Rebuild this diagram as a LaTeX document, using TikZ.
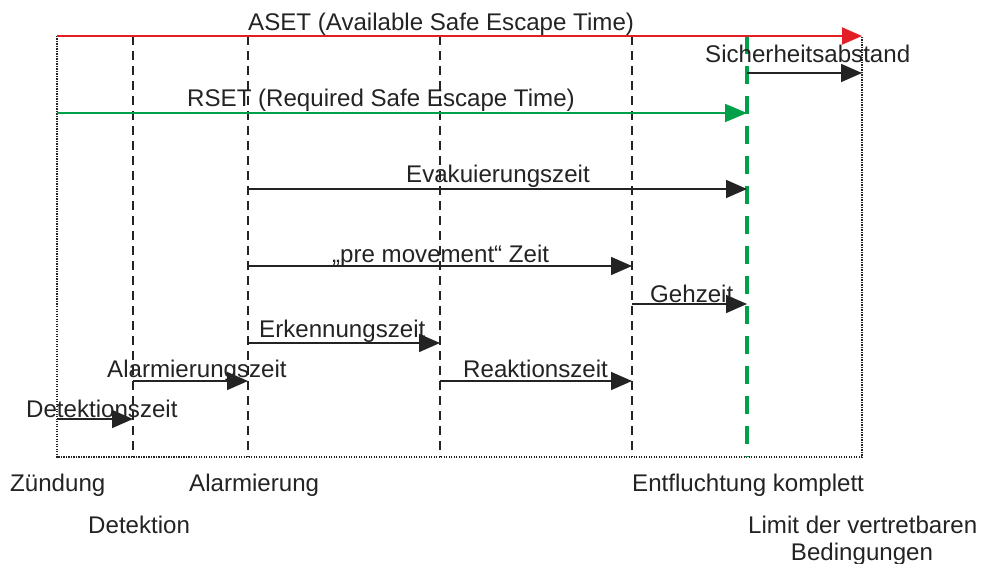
\documentclass[tikz,border=0pt]{standalone}
\usepackage{fontspec}
\setmainfont{Liberation Sans}
\usetikzlibrary{arrows.meta}
\definecolor{ink}{HTML}{232323}
\definecolor{asetred}{HTML}{E31E24}
\definecolor{rsetgreen}{HTML}{00A04A}

\begin{document}
\begin{tikzpicture}[x=1pt,y=-1pt,
  lbl/.style={anchor=base west, inner sep=0pt, text=ink, font=\fontsize{24.1}{28}\selectfont},
  phase/.style={draw=ink, line width=1.4pt, dash pattern=on 9pt off 6pt},
  limitline/.style={draw=rsetgreen, line width=3.3pt, dash pattern=on 18pt off 12pt},
  frame/.style={draw=ink, line width=1.1pt, dash pattern=on 1.2pt off 1.3pt},
  span/.style={draw=ink, line width=1.7pt, -{Triangle[length=21pt,width=18pt]}},
  aset/.style={draw=asetred, line width=2pt, -{Triangle[length=20pt,width=17pt]}},
  rset/.style={draw=rsetgreen, line width=2pt, -{Triangle[length=22pt,width=18pt]}}
]
\useasboundingbox (0,0) rectangle (982,564);

% time axis frame
\coordinate (ztop) at (57,36);
\coordinate (zbot) at (57,457);
\coordinate (etop) at (862,36);
\coordinate (ebot) at (862,457);
\draw[frame] (ztop) -- (zbot) -- (ebot) -- (etop);

% event lines
\foreach \n/\x in {det/133, ala/248, rea/440, ent/632}{
  \coordinate (\n top) at (\x,36);
  \coordinate (\n bot) at (\x,457);
  \draw[phase] (\n top) -- (\n bot);
}
\coordinate (limtop) at (747,36);
\coordinate (limbot) at (747,457);
\draw[limitline] (limtop) -- (limbot);

% ASET / RSET
\draw[aset] (ztop) -- (etop);
\node[lbl] (asetlbl) at (248,31) {ASET (Available Safe Escape Time)};
\coordinate (rs0) at (57,113);
\coordinate (rs1) at (747,113);
\draw[rset] (rs0) -- (rs1);
\node[lbl] (rsetlbl) at (187,107) {RSET (Required Safe Escape Time)};

% safety margin
\coordinate (sa0) at (747,73);
\coordinate (sa1) at (862,73);
\draw[span] (sa0) -- (sa1);
\node[lbl] (salbl) at (705,63) {Sicherheitsabstand};

% evacuation time
\coordinate (ev0) at (248,189);
\coordinate (ev1) at (747,189);
\draw[span] (ev0) -- (ev1);
\node[lbl] (evlbl) at (406,183) {Evakuierungszeit};

% pre-movement time
\coordinate (pm0) at (248,266);
\coordinate (pm1) at (632,266);
\draw[span] (pm0) -- (pm1);
\node[lbl] (pmlbl) at (332,262) {„pre movement“ Zeit};

% walking time
\coordinate (gz0) at (632,304);
\coordinate (gz1) at (747,304);
\draw[span] (gz0) -- (gz1);
\node[lbl] (gzlbl) at (650,302) {Gehzeit};

% recognition time
\coordinate (ek0) at (248,343);
\coordinate (ek1) at (440,343);
\draw[span] (ek0) -- (ek1);
\node[lbl] (eklbl) at (259,337) {Erkennungszeit};

% alarm time
\coordinate (az0) at (133,381);
\coordinate (az1) at (248,381);
\draw[span] (az0) -- (az1);
\node[lbl] (azlbl) at (107,377) {Alarmierungszeit};

% reaction time
\coordinate (rz0) at (440,381);
\coordinate (rz1) at (632,381);
\draw[span] (rz0) -- (rz1);
\node[lbl] (rzlbl) at (463,377) {Reaktionszeit};

% detection time
\coordinate (dz0) at (57,419);
\coordinate (dz1) at (133,419);
\draw[span] (dz0) -- (dz1);
\node[lbl] (dzlbl) at (26,417) {Detektionszeit};

% events
\node[lbl] (zuend) at (10,491) {Zündung};
\node[lbl] (alarm) at (189,491) {Alarmierung};
\node[lbl] (entfl) at (632,491) {Entfluchtung komplett};
\node[lbl] (detek) at (88,533) {Detektion};
\node[lbl] (limit1) at (748,533) {Limit der vertretbaren};
\node[lbl, anchor=base] (limit2) at (862,560) {Bedingungen};
\end{tikzpicture}
\end{document}
